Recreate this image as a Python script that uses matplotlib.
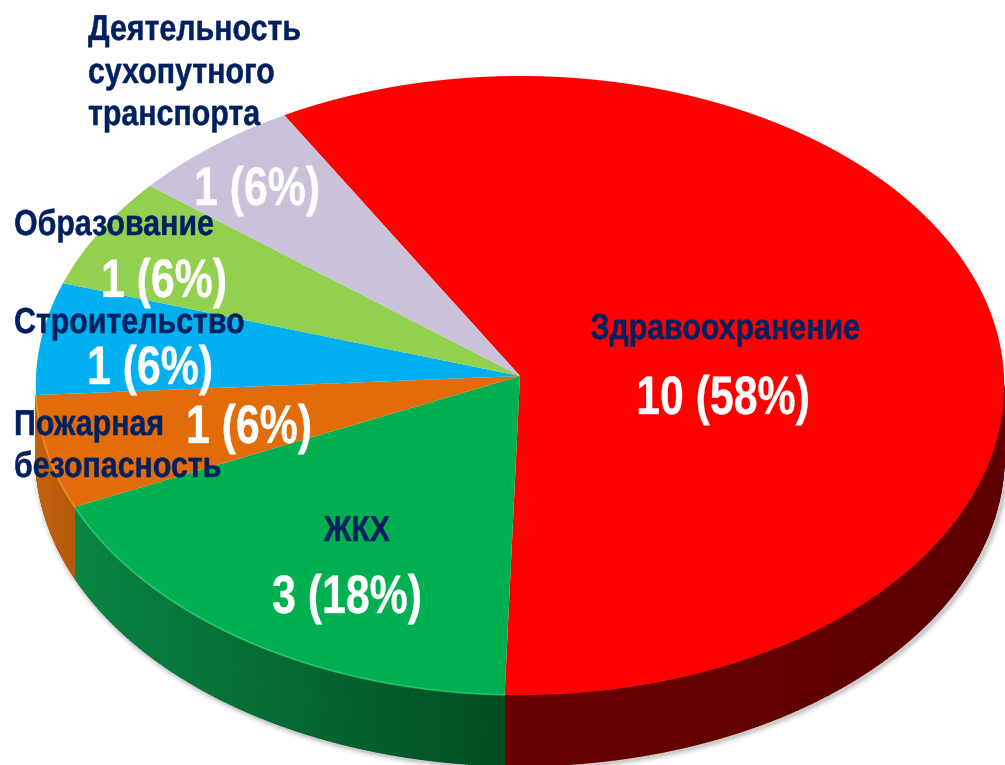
import numpy as np
import matplotlib
matplotlib.use('Agg')
import matplotlib.pyplot as plt
import matplotlib.patheffects as pe
from matplotlib.colors import LinearSegmentedColormap
from matplotlib.transforms import Affine2D

# datos del grafico
categorias = ['Здравоохранение', 'ЖКХ', 'Пожарная\nбезопасность', 'Строительство',
              'Образование', 'Деятельность\nсухопутного\nтранспорта']
valores = [10, 3, 1, 1, 1, 1]
porcentajes = [58, 18, 6, 6, 6, 6]
colores = ['#ff0000', '#00b050', '#e36c0a', '#00b0f0', '#92d050', '#ccc1da']
lados = [('#680000', '#5e0000'), ('#0a8542', '#004d22'), ('#c2620d', '#b45a0a')]

W, H = 1005, 765
xc, yc, rx, ry, k = 520, 376, 484, 309.2, 0.0307  # k: perspectiva del disco
prof = 71
inicio = 120.0


def proyectar(grados):
    # pasa angulos del disco a pixeles de la imagen, con la perspectiva de la tapa
    t = np.radians(grados)
    d = 1 + k * np.sin(t)
    return xc + rx * np.cos(t) / d, yc - ry * np.sin(t) / d


class Estrecho(pe.AbstractPathEffect):
    # comprime el texto en horizontal alrededor de su ancla y lo engrosa un poco
    def __init__(self, x0, f, grueso=0.3):
        super().__init__()
        self.x0, self.f, self.grueso = x0, f, grueso

    def draw_path(self, renderer, gc, tpath, affine, rgbFace=None):
        aff = affine + Affine2D().translate(-self.x0, 0).scale(self.f, 1).translate(self.x0, 0)
        gc0 = renderer.new_gc()
        gc0.copy_properties(gc)
        gc0.set_foreground(rgbFace)
        gc0.set_linewidth(self.grueso)
        renderer.draw_path(gc0, tpath, aff, rgbFace)
        gc0.restore()


plt.rcParams['font.family'] = ['Liberation Sans']

fig = plt.figure(figsize=(W / 100, H / 100), dpi=100, facecolor='white')
ax = fig.add_axes([0, 0, 1, 1])
ax.set_xlim(0, W)
ax.set_ylim(H, 0)
ax.axis('off')

# limites de cada porcion, en sentido horario desde inicio
acum = np.cumsum([0] + valores) / np.sum(valores) * 360
limites = (inicio - acum) % 360
limites[0] = inicio + 360 if limites[1] > inicio else inicio

# sombra bajo el borde inferior
xs, ys = proyectar(np.linspace(183.5, 358.2, 400))
for lw, a in zip([9, 6, 3.5], [0.06, 0.1, 0.16]):
    ax.plot(xs + 2, ys + prof + 1, color='#555555', lw=lw, alpha=a, zorder=1,
            solid_capstyle='butt')

# lateral de las porciones visibles
for i, lado in enumerate(lados):
    a = max(min(limites[i + 1], limites[i]), 183.5)
    b = min(max(limites[i + 1], limites[i]), 358.2)
    if i == 0:
        a, b = limites[1], 358.2
    x, y = proyectar(np.linspace(a, b, 200))
    X = np.vstack([x, x])
    Y = np.vstack([y, y + prof])
    cmap = LinearSegmentedColormap.from_list('lado', lado)
    ax.pcolormesh(X, Y, X, cmap=cmap, shading='gouraud', zorder=3)

# tapa del grafico
for i, c in enumerate(colores):
    a0 = limites[i]
    a1 = limites[i + 1]
    if a1 > a0:
        a1 -= 360
    x, y = proyectar(np.linspace(a0, a1, 200))
    ax.fill(np.r_[xc, x], np.r_[yc, y], color=c, lw=0, zorder=5)

# brillo del borde superior
for i, c in zip([1, 2], ['#35d67f', '#ff9a2e']):
    x, y = proyectar(np.linspace(limites[i + 1], limites[i], 100))
    ax.plot(x, y, color=c, lw=1.2, alpha=0.7, zorder=6)

# etiquetas blancas con cantidad y porcentaje
pos_valor = [(723, 414), (347, 613), (249, 443), (150, 384), (164, 297), (257, 205)]
for v, p, (px, py) in zip(valores, porcentajes, pos_valor):
    ax.text(px, py, '{} ({}%)'.format(v, p), color='white', fontsize=39, fontweight='bold',
            ha='center', va='baseline', zorder=8, path_effects=[Estrecho(px, 0.79)])

# nombres de categoria
azul = '#002060'
for i, px, py in [(0, 725, 339), (1, 357, 541)]:
    ax.text(px, py, categorias[i], color=azul, fontsize=26, fontweight='bold', ha='center',
            va='baseline', zorder=9, path_effects=[Estrecho(px, 0.84)])
pos_izq = [(2, 14, [435, 477]), (3, 14, [333]), (4, 14, [235]), (5, 88, [40, 83, 125])]
for i, px, filas in pos_izq:
    for linea, py in zip(categorias[i].split('\n'), filas):
        ax.text(px, py, linea, color=azul, fontsize=26, fontweight='bold', ha='left',
                va='baseline', zorder=9, path_effects=[Estrecho(px, 0.84)])

fig.savefig('out.png', dpi=100)
